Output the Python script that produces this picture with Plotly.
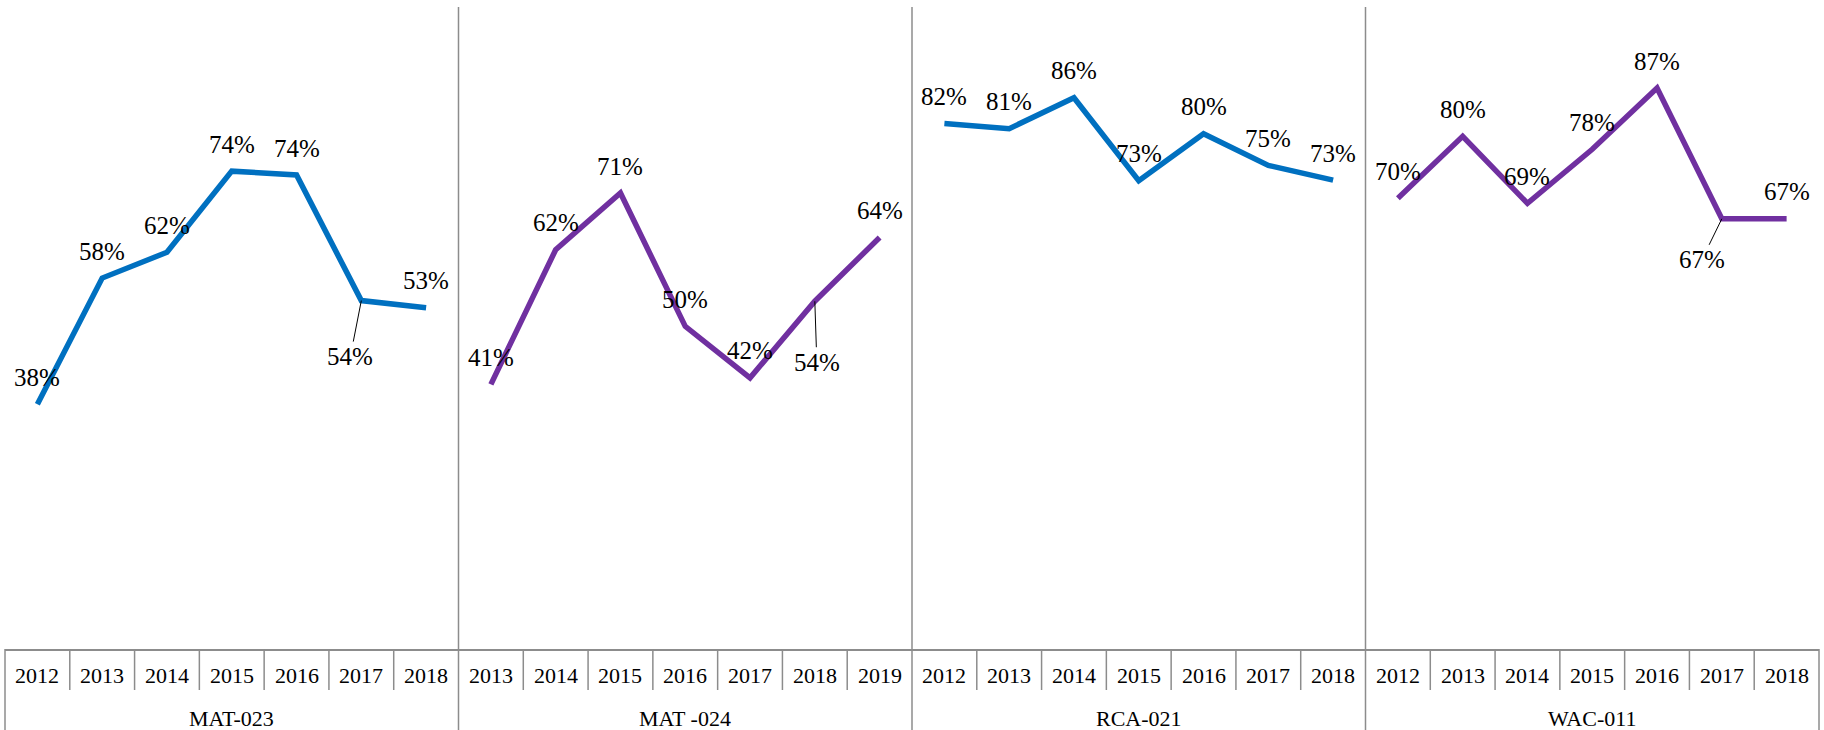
import plotly.graph_objects as go

# groups along the category axis
groups = ["MAT-023", "MAT -024", "RCA-021", "WAC-011"]
years = [
    ["2012", "2013", "2014", "2015", "2016", "2017", "2018"],
    ["2013", "2014", "2015", "2016", "2017", "2018", "2019"],
    ["2012", "2013", "2014", "2015", "2016", "2017", "2018"],
    ["2012", "2013", "2014", "2015", "2016", "2017", "2018"],
]

# values (fractions)
mat023 = [0.380, 0.576, 0.616, 0.742, 0.736, 0.541, 0.530]
mat024 = [0.411, 0.620, 0.708, 0.501, 0.421, 0.540, 0.639]
rca021 = [0.816, 0.808, 0.856, 0.727, 0.800, 0.751, 0.728]
wac011 = [0.700, 0.796, 0.692, 0.776, 0.871, 0.668, 0.668]
series = [mat023, mat024, rca021, wac011]
colors = ["#0070C0", "#7030A0", "#0070C0", "#7030A0"]

# labels that sit below the point with a leader line: (group, index) -> (ax, ay)
leaders = {(0, 5): (-11, 56), (1, 5): (2, 61), (3, 5): (-20, 41)}

FONT = "Liberation Serif"
n_per = 7
n_all = n_per * len(groups)

fig = go.Figure()
annotations = []
for g, vals in enumerate(series):
    xs = list(range(g * n_per, g * n_per + n_per))
    fig.add_trace(go.Scatter(
        x=xs, y=vals, mode="lines",
        line=dict(color=colors[g], width=5.5),
        hoverinfo="skip", showlegend=False,
    ))
    for i, (x, v) in enumerate(zip(xs, vals)):
        lab = dict(x=x, y=v, xref="x", yref="y", text=f"{v:.0%}",
                   font=dict(family=FONT, size=25, color="black"))
        if (g, i) in leaders:
            ax, ay = leaders[(g, i)]
            lab.update(showarrow=True, arrowhead=0, arrowwidth=1,
                       arrowcolor="black", ax=ax, ay=ay, standoff=0)
        else:
            lab.update(showarrow=False, yshift=27)
        annotations.append(lab)
    # year labels and group label
    for i, yr in enumerate(years[g]):
        annotations.append(dict(x=xs[i], y=-26 / 644, xref="x", yref="paper",
                                text=yr, showarrow=False, yanchor="middle",
                                font=dict(family=FONT, size=22, color="black")))
    annotations.append(dict(x=g * n_per + 3, y=-69 / 644, xref="x", yref="paper",
                            text=groups[g], showarrow=False, yanchor="middle",
                            font=dict(family=FONT, size=22, color="black")))

# table-like axis lines
grey = "#8c8c8c"
shapes = []
for k in range(n_all + 1):
    xp = k / n_all
    if k in (0, n_all):
        y0, y1 = -81 / 644, 0
    elif k % n_per == 0:
        y0, y1 = -81 / 644, 0.997
    else:
        y0, y1 = -41 / 644, 0
    shapes.append(dict(type="line", xref="paper", yref="paper",
                       x0=xp, x1=xp, y0=y0, y1=y1,
                       line=dict(color=grey, width=1.5)))

fig.update_layout(
    width=1824, height=730,
    margin=dict(l=5, r=5, t=5, b=81),
    paper_bgcolor="white", plot_bgcolor="white",
    xaxis=dict(range=[-0.5, n_all - 0.5], showticklabels=False, showgrid=False,
               zeroline=False, showline=True, linecolor=grey, linewidth=1.5,
               ticks=""),
    yaxis=dict(range=[0, 1], visible=False),
    annotations=annotations,
    shapes=shapes,
    hovermode=False,
)
# the page body has a default margin; drop it so the figure fills the window
fig.write_html("out.html", config={"displayModeBar": False},
               post_script="document.body.style.margin='0px';")
